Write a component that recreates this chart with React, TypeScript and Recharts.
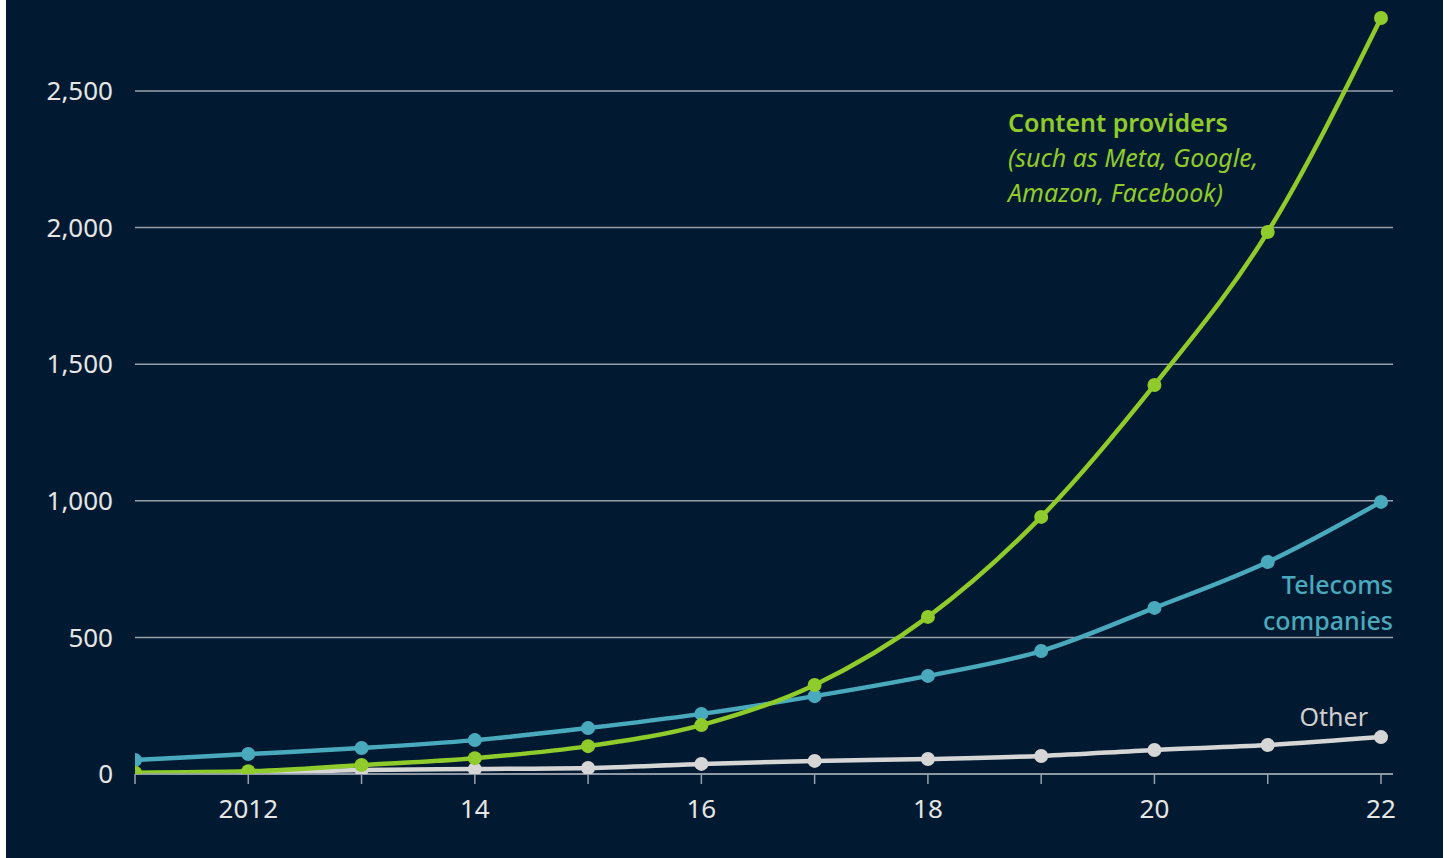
import React from "react";
import { LineChart, Line, XAxis, YAxis, ReferenceLine } from "recharts";

const years = [2011, 2012, 2013, 2014, 2015, 2016, 2017, 2018, 2019, 2020, 2021, 2022];
const contentProviders = [5, 10, 33, 58, 102, 179, 326, 575, 941, 1424, 1984, 2767];
const telecoms = [51, 73, 95, 124, 168, 220, 285, 359, 450, 608, 776, 996];
const other = [2, 4, 15, 18, 22, 37, 48, 55, 66, 88, 106, 135];
const yTicks = [0, 500, 1000, 1500, 2000, 2500];
const xTickLabels: Record<number, string> = { 2012: "2012", 2014: "14", 2016: "16", 2018: "18", 2020: "20", 2022: "22" };

const data = years.map((y, i) => ({
  year: y,
  content: contentProviders[i],
  telecoms: telecoms[i],
  other: other[i],
}));

const BG = "#021a31";
const GREEN = "#8fcb2a";
const TEAL = "#4aaabd";
const GREY = "#d6d6d6";
const GRID = "#96a0ac";
const FONT = "'Noto Sans', sans-serif";

export default function App() {
  return (
    <div style={{ position: "absolute", left: 6, top: 0, width: 1437, height: 858, background: BG, fontFamily: FONT }}>
      <LineChart width={1437} height={858} data={data} margin={{ top: 9, right: 50, bottom: 44, left: 0 }}>
        {yTicks.map((t) => (
          <ReferenceLine key={t} y={t} stroke={GRID} strokeWidth={1.5} ifOverflow="extendDomain" />
        ))}
        <XAxis
          dataKey="year"
          type="number"
          domain={[2011, 2022.106]}
          ticks={years}
          allowDataOverflow
          tickFormatter={(v: number) => xTickLabels[v] ?? ""}
          stroke={GRID}
          strokeWidth={1.5}
          tickSize={10}
          tickMargin={16}
          height={40}
          tick={{ fill: "#e6e6e6", fontSize: 26, fontFamily: FONT }}
        />
        <YAxis
          domain={[0, 2800]}
          ticks={yTicks}
          allowDataOverflow
          width={129}
          axisLine={false}
          tickLine={false}
          tickSize={0}
          tickMargin={22}
          tickFormatter={(v: number) => v.toLocaleString("en-US")}
          tick={{ fill: "#e6e6e6", fontSize: 26, fontFamily: FONT }}
        />
        <Line type="monotone" dataKey="other" stroke={GREY} strokeWidth={4.5} dot={{ r: 7, fill: GREY, stroke: "none" }} isAnimationActive={false} />
        <Line type="monotone" dataKey="telecoms" stroke={TEAL} strokeWidth={4.5} dot={{ r: 7, fill: TEAL, stroke: "none" }} isAnimationActive={false} />
        <Line type="monotone" dataKey="content" stroke={GREEN} strokeWidth={4.5} dot={{ r: 7, fill: GREEN, stroke: "none" }} isAnimationActive={false} />
      </LineChart>
      <div style={{ position: "absolute", left: 1002, top: 105, color: GREEN, fontSize: 25, lineHeight: "35px", whiteSpace: "nowrap" }}>
        <div style={{ fontWeight: 600 }}>Content providers</div>
        <div style={{ fontStyle: "italic" }}>(such as Meta, Google,</div>
        <div style={{ fontStyle: "italic" }}>Amazon, Facebook)</div>
      </div>
      <div style={{ position: "absolute", right: 1437 - 1387, top: 566, color: TEAL, fontSize: 25, lineHeight: "36px", textAlign: "right", fontWeight: 500, whiteSpace: "nowrap" }}>
        <div>Telecoms</div>
        <div>companies</div>
      </div>
      <div style={{ position: "absolute", right: 1437 - 1362, top: 698, color: "#cfcfcf", fontSize: 25, lineHeight: "36px", textAlign: "right", whiteSpace: "nowrap" }}>
        Other
      </div>
    </div>
  );
}
